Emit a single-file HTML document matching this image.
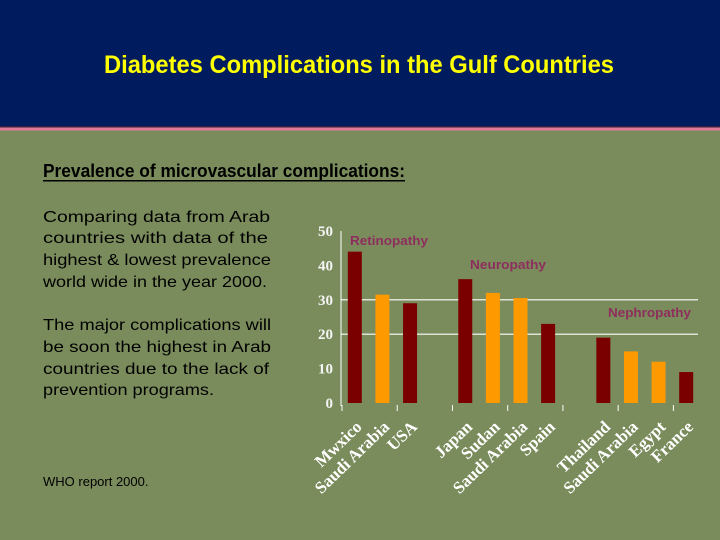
<!DOCTYPE html>
<html><head><meta charset="utf-8"><style>
body{margin:0;width:720px;height:540px;overflow:hidden;background:#7a8c5c}
svg{display:block}
</style></head><body>
<svg width="720" height="540" font-family="Liberation Sans, sans-serif">
<rect x="0" y="0" width="720" height="540" fill="#7a8c5c"/>
<rect x="0" y="0" width="720" height="126" fill="#001c5e"/>
<rect x="0" y="126" width="720" height="1.5" fill="#3a2040"/>
<rect x="0" y="127.5" width="720" height="3" fill="#e07a98"/>
<text x="104" y="73" font-size="25" font-weight="bold" fill="#ffff00" textLength="510" lengthAdjust="spacingAndGlyphs">Diabetes Complications in the Gulf Countries</text>
<text x="43" y="177" font-size="18" font-weight="bold" fill="#000" textLength="362" lengthAdjust="spacingAndGlyphs">Prevalence of microvascular complications:</text>
<rect x="43" y="180" width="362" height="1.5" fill="#000"/>
<g font-size="16" fill="#000">
<text x="43" y="222" textLength="227" lengthAdjust="spacingAndGlyphs">Comparing data from Arab</text>
<text x="43" y="243" textLength="225" lengthAdjust="spacingAndGlyphs">countries with data of the</text>
<text x="43" y="265" textLength="228" lengthAdjust="spacingAndGlyphs">highest &amp; lowest prevalence</text>
<text x="43" y="287" textLength="224" lengthAdjust="spacingAndGlyphs">world wide in the year 2000.</text>
<text x="43" y="330" textLength="228" lengthAdjust="spacingAndGlyphs">The major complications will</text>
<text x="43" y="352" textLength="228" lengthAdjust="spacingAndGlyphs">be soon the highest in Arab</text>
<text x="43" y="374" textLength="226" lengthAdjust="spacingAndGlyphs">countries due to the lack of</text>
<text x="43" y="395" textLength="171" lengthAdjust="spacingAndGlyphs">prevention programs.</text>
</g>
<text x="43" y="486" font-size="13" fill="#000">WHO report 2000.</text>
<g id="chart"></g>
</svg>
<script>
const categories=["Mwxico","Saudi Arabia","USA","","Japan","Sudan","Saudi Arabia","Spain","","Thailand","Saudi Arabia","Egypt","France"];
const values=[44,31.5,29,null,36,32,30.5,23,null,19,15,12,9];
const colorKeys=["d","o","d",null,"d","o","o","d",null,"d","o","o","d"];
const yTicks=[0,10,20,30,40,50];
const gridValues=[20,30];
const groupLabels=["Retinopathy","Neuropathy","Nephropathy"];
const NS="http://www.w3.org/2000/svg";
const g=document.getElementById('chart');
const x0=341,x1=700,yBase=403,yTop=231,yMax=50;
const slot=(x1-x0)/categories.length;
const yS=v=>yBase-(v/yMax)*(yBase-yTop);
const xC=i=>x0+slot*(i+0.5);
function mk(t,a){const e=document.createElementNS(NS,t);for(const k in a)e.setAttribute(k,a[k]);g.appendChild(e);return e;}
gridValues.forEach(v=>{const l=mk('line',{x1:x0,x2:698,y1:yS(v),y2:yS(v),stroke:'#fff','stroke-width':1.2});

});
const ax=mk('line',{x1:x0,x2:x0,y1:yTop,y2:yBase+3,stroke:'#fff','stroke-width':1});


yTicks.forEach(v=>{const t=mk('text',{x:333,y:yS(v)+5,'text-anchor':'end','font-family':'Liberation Serif, serif','font-size':15,'font-weight':'bold',fill:'#f4f4f4'});t.textContent=v;

});
[0,2,4,6,8,10,12].forEach(k=>{const tk=mk('line',{x1:x0+slot*k+1,x2:x0+slot*k+1,y1:yBase+2,y2:yBase+8,stroke:'#fff','stroke-width':1});

});
const cols={d:'#7a0000',o:'#ff9900'};
values.forEach((v,i)=>{if(v==null)return;const r=mk('rect',{x:xC(i)-7,y:yS(v),width:14,height:yBase-yS(v),fill:cols[colorKeys[i]]});

});
categories.forEach((c,i)=>{if(!c)return;const cx=xC(i)+8,cy=yBase+25;const t=mk('text',{x:cx,y:cy,'text-anchor':'end','font-family':'Liberation Serif, serif','font-size':17,'font-weight':'bold',fill:'#fff',transform:`rotate(-44 ${cx} ${cy})`});t.textContent=c;

});
const gpos=[[350,245,78],[470,269,76],[608,317,83]];
groupLabels.forEach((s,i)=>{const t=mk('text',{x:gpos[i][0],y:gpos[i][1],'font-size':13,'font-weight':'bold',fill:'#8e2e5c',textLength:gpos[i][2],lengthAdjust:'spacingAndGlyphs'});t.textContent=s;

});
</script>
</body></html>
